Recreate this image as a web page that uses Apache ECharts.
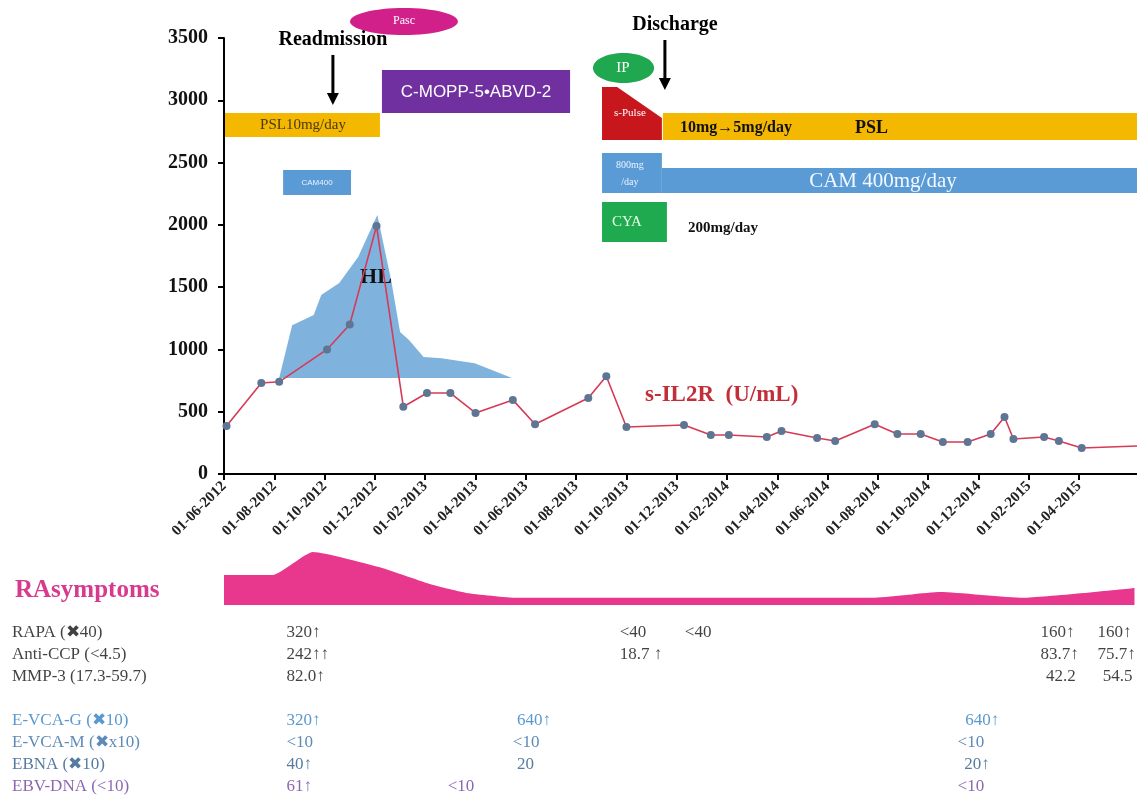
<!DOCTYPE html>
<html><head><meta charset="utf-8">
<script src="https://cdn.jsdelivr.net/npm/echarts@6/dist/echarts.min.js"></script>
<style>html,body{margin:0;padding:0;background:#fff}#c{width:1137px;height:799px}</style>
</head><body><div id="c"></div>
<script>
// ---------- DATA ----------
const X_TICK_MONTHS = [0,2,4,6,8,10,12,14,16,18,20,22,24,26,28,30,32,34]; // months after 01-06-2012
const Y_TICKS = [0,500,1000,1500,2000,2500,3000,3500];

const sil2rDates = ['2012-06-04','2012-07-16','2012-08-07','2012-10-04','2012-11-01','2012-12-03',
  '2013-01-05','2013-02-03','2013-03-01','2013-04-01','2013-05-16','2013-06-12','2013-08-16','2013-09-07',
  '2013-10-01','2013-12-10','2014-01-12','2014-02-03','2014-03-19','2014-04-06','2014-05-19','2014-06-10',
  '2014-07-28','2014-08-25','2014-09-22','2014-10-19','2014-11-18','2014-12-16','2015-01-02','2015-01-13',
  '2015-02-18','2015-03-07','2015-04-04','2015-06-10'];
const sil2rValues = [385,730,740,1000,1200,1990,540,650,650,490,595,400,610,785,
  377,393,313,313,297,345,289,265,400,321,321,257,257,321,457,281,297,265,209,225];

const hlDates = ['2012-08-07','2012-08-23','2012-09-18','2012-09-27','2012-10-19','2012-11-11','2012-12-04',
  '2012-12-21','2013-01-01','2013-01-12','2013-01-30','2013-02-19','2013-03-31','2013-05-15'];
const hlValues = [770,1195,1276,1437,1533,1742,2079,1557,1140,1075,940,930,890,770];
const hlBase = 770;

const raDates = ['2012-06-01','2012-07-30','2012-09-17','2012-12-10','2013-02-09','2013-03-21','2013-05-21',
  '2014-07-25','2014-10-16','2015-01-25','2015-06-07'];
const raValues = [4.6,4.6,8.15,5.7,3.1,1.85,1.1,1.1,2.0,1.1,2.6];

const tableRows = ['RAPA (\u271640)','Anti-CCP (<4.5)','MMP-3 (17.3-59.7)','',
  'E-VCA-G (\u271610)','E-VCA-M (\u2716x10)','EBNA (\u271610)','EBV-DNA (<10)'];
const rapa    = [['2012-08-16','320\u2191'],['2013-09-23','<40'],['2013-12-11','<40'],['2015-02-14','160\u2191'],['2015-04-23','160\u2191']];
const antiCCP = [['2012-08-16','242\u2191\u2191'],['2013-09-23','18.7 \u2191'],['2015-02-14','83.7\u2191'],['2015-04-23','75.7\u2191']];
const mmp3    = [['2012-08-16','82.0\u2191'],['2015-02-20','42.2'],['2015-04-29','54.5']];
const evcaG   = [['2012-08-16','320\u2191'],['2013-05-21','640\u2191'],['2014-11-15','640\u2191']];
const evcaM   = [['2012-08-16','<10'],['2013-05-16','<10'],['2014-11-06','<10']];
const ebna    = [['2012-08-16','40\u2191'],['2013-05-21','20'],['2014-11-14','20\u2191']];
const ebvDNA  = [['2012-08-16','61\u2191'],['2013-02-26','<10'],['2014-11-06','<10']];
const tableValues = [rapa, antiCCP, mmp3, [], evcaG, evcaM, ebna, ebvDNA];

// ---------- STYLE / LAYOUT ----------
const SERIF = 'Liberation Serif';
const SANS = 'Liberation Sans';
const ROW_COLORS = ['#111','#111','#111','#111','#2f7fc1','#356da6','#2b5a88','#6f3f9e'];
const X_MAX = 36.3;
const PX_PER_MONTH = (1137 - 224) / X_MAX;
const TABLE_X_MIN = -(224 - 12) / PX_PER_MONTH; // table grid starts at the row-label column

// annotation shapes (x in months after 01-06-2012, y in axis units)
const ANNOTATIONS = [
  {t:'rect', x1:0.04, x2:6.2, y1:2705, y2:2898, fill:'#f5b800'},
  {t:'text', x:3.14, y:2802, text:'PSL10mg/day', fill:'#4a3a10', size:15, family:SERIF},
  {t:'rect', x1:2.35, x2:5.05, y1:2240, y2:2440, fill:'#5b9bd5'},
  {t:'text', x:3.7, y:2336, text:'CAM400', fill:'#eaf3ff', size:8, family:SANS},
  {t:'rect', x1:6.28, x2:13.76, y1:2898, y2:3243, fill:'#7030a0'},
  {t:'text', x:10.02, y:3066, text:'C-MOPP-5\u2022ABVD-2', fill:'#fff', size:17, family:SANS},
  {t:'ellipse', x1:5.01, x2:9.3, y1:3524, y2:3741, fill:'#d1208a'},
  {t:'text', x:7.16, y:3636, text:'Pasc', fill:'#fff', size:12, family:SERIF},
  {t:'text', x:4.33, y:3484, text:'Readmission', fill:'#000', size:20, family:SERIF, weight:'bold'},
  {t:'arrow', x:4.33, y1:3364, y2:2962},
  {t:'text', x:17.93, y:3604, text:'Discharge', fill:'#000', size:20, family:SERIF, weight:'bold'},
  {t:'arrow', x:17.53, y1:3484, y2:3083},
  {t:'ellipse', x1:14.67, x2:17.1, y1:3139, y2:3380, fill:'#1fa84f'},
  {t:'text', x:15.86, y:3259, text:'IP', fill:'#fff', size:15, family:SERIF},
  {t:'poly', pts:[[15.03,3107],[15.63,3107],[17.41,2858],[17.41,2681],[15.03,2681]], fill:'#c8161d'},
  {t:'text', x:16.14, y:2895, text:'s-Pulse', fill:'#fff', size:11, family:SERIF},
  {t:'rect', x1:17.45, x2:X_MAX, y1:2681, y2:2898, fill:'#f5b800'},
  {t:'text', x:18.13, y:2778, text:'10mg\u21925mg/day', fill:'#111', size:16, family:SERIF, weight:'bold', align:'left'},
  {t:'text', x:25.09, y:2778, text:'PSL', fill:'#111', size:18, family:SERIF, weight:'bold', align:'left'},
  {t:'rect', x1:15.03, x2:17.41, y1:2256, y2:2577, fill:'#5b9bd5'},
  {t:'rect', x1:17.41, x2:X_MAX, y1:2256, y2:2456, fill:'#5b9bd5'},
  {t:'text', x:16.14, y:2480, text:'800mg', fill:'#eaf3ff', size:10, family:SERIF},
  {t:'text', x:16.14, y:2344, text:'/day', fill:'#eaf3ff', size:10, family:SERIF},
  {t:'text', x:26.2, y:2352, text:'CAM 400mg/day', fill:'#f2f8ff', size:21, family:SERIF},
  {t:'rect', x1:15.03, x2:17.61, y1:1862, y2:2183, fill:'#1faa50'},
  {t:'text', x:16.02, y:2023, text:'CYA', fill:'#e8ffe8', size:15, family:SERIF},
  {t:'text', x:18.45, y:1975, text:'200mg/day', fill:'#111', size:15, family:SERIF, weight:'bold', align:'left'},
  {t:'text', x:6.04, y:1581, text:'HL', fill:'#111', size:22, family:SERIF, weight:'bold'},
  {t:'text', x:16.74, y:634, text:'s-IL2R  (U/mL)', fill:'#c22f3a', size:23, family:SERIF, weight:'bold', align:'left'}
];

// ---------- HELPERS ----------
function toMonths(s){
  const [y,m,d] = s.split('-').map(Number);
  const dim = new Date(y, m, 0).getDate();
  return (y-2012)*12 + (m-6) + (d-1)/dim;
}
function monthLabel(v){
  const m = 6 + Math.round(v);
  const y = 2012 + Math.floor((m-1)/12);
  const mm = ((m-1)%12)+1;
  return '01-' + String(mm).padStart(2,'0') + '-' + y;
}

const sil2rData = sil2rDates.map((d,i)=>{
  const item = {value:[toMonths(d), sil2rValues[i]]};
  if (i === sil2rDates.length-1) item.symbol = 'none';
  return item;
});
const hlData = hlDates.map((d,i)=>[toMonths(d), hlValues[i]]);
const raData = raDates.map((d,i)=>[toMonths(d), raValues[i]]);
const tableData = [];
tableValues.forEach((row, ri)=>row.forEach(([d,t])=>{
  tableData.push({value:[toMonths(d), ri, t], label:{color: ROW_COLORS[ri]}});
}));
const rowLabelData = tableRows.map((r,i)=>({value:[TABLE_X_MIN, i, r], label:{color: ROW_COLORS[i]}}));

const chart = echarts.init(document.getElementById('c'));
chart.setOption({
  animation:false,
  backgroundColor:'#fff',
  title:{text:'RAsymptoms', left:10, top:573,
    textStyle:{color:'#d63b8f', fontFamily:SERIF, fontWeight:'bold', fontSize:25}},
  grid:[
    {left:224, right:0, top:38, height:436, outerBoundsMode:'none', containLabel:false},
    {left:224, right:0, top:540, height:65, outerBoundsMode:'none', containLabel:false},
    {left:12, right:0, top:622, height:176, outerBoundsMode:'none', containLabel:false}
  ],
  xAxis:[
    {type:'value', gridIndex:0, min:0, max:X_MAX,
     axisLine:{lineStyle:{color:'#000', width:2}},
     axisTick:{customValues:X_TICK_MONTHS, length:6, lineStyle:{color:'#000', width:2}},
     axisLabel:{customValues:X_TICK_MONTHS, formatter:monthLabel, rotate:45, margin:10,
       color:'#222', fontFamily:SERIF, fontWeight:'bold', fontSize:15},
     splitLine:{show:false}},
    {type:'value', gridIndex:1, min:0, max:X_MAX, show:false},
    {type:'value', gridIndex:2, min:TABLE_X_MIN, max:X_MAX, show:false}
  ],
  yAxis:[
    {type:'value', gridIndex:0, min:0, max:3500, interval:500,
     axisLine:{show:true, lineStyle:{color:'#000', width:2}},
     axisTick:{show:true, length:6, lineStyle:{color:'#000', width:2}},
     axisLabel:{color:'#111', fontFamily:SERIF, fontWeight:'bold', fontSize:20, margin:16,
       formatter:v=>String(v)},
     splitLine:{show:false}},
    {type:'value', gridIndex:1, min:0, max:10, show:false},
    {type:'category', gridIndex:2, inverse:true, data:tableRows, show:false}
  ],
  series:[
    {type:'line', name:'HL', xAxisIndex:0, yAxisIndex:0, data:hlData, symbol:'none',
     lineStyle:{width:0}, areaStyle:{color:'#7fb3de', opacity:1, origin:hlBase}, z:1, silent:true},
    {type:'line', name:'s-IL2R', xAxisIndex:0, yAxisIndex:0, data:sil2rData,
     symbol:'circle', symbolSize:8, itemStyle:{color:'#5f7594'},
     lineStyle:{color:'#d63a56', width:1.6}, z:5, silent:true},
    {type:'line', name:'RA', xAxisIndex:1, yAxisIndex:1, data:raData, symbol:'none', smooth:0.15,
     lineStyle:{width:0}, areaStyle:{color:'#e8388e', opacity:1}, silent:true},
    {type:'scatter', name:'rowLabels', xAxisIndex:2, yAxisIndex:2, data:rowLabelData, symbolSize:0,
     label:{show:true, position:'right', distance:0, formatter:p=>p.data.value[2],
       fontFamily:SERIF, fontSize:17}, silent:true},
    {type:'scatter', name:'table', xAxisIndex:2, yAxisIndex:2, data:tableData, symbolSize:0,
     label:{show:true, position:'right', distance:0, formatter:p=>p.data.value[2],
       fontFamily:SERIF, fontSize:17}, silent:true},
    {type:'custom', name:'annotations', xAxisIndex:0, yAxisIndex:0, clip:false, silent:true, z:4,
     data: ANNOTATIONS.map(()=>[0,0]),
     renderItem:function(params, api){
       const a = ANNOTATIONS[params.dataIndex];
       const c = (x,y)=>api.coord([x,y]);
       if (a.t==='rect' || a.t==='ellipse'){
         const p=c(a.x1,a.y2), q=c(a.x2,a.y1);
         if (a.t==='rect') return {type:'rect', shape:{x:p[0],y:p[1],width:q[0]-p[0],height:q[1]-p[1]}, style:{fill:a.fill}};
         return {type:'ellipse', shape:{cx:(p[0]+q[0])/2, cy:(p[1]+q[1])/2, rx:(q[0]-p[0])/2, ry:(q[1]-p[1])/2}, style:{fill:a.fill}};
       }
       if (a.t==='poly') return {type:'polygon', shape:{points:a.pts.map(pt=>c(pt[0],pt[1]))}, style:{fill:a.fill}};
       if (a.t==='arrow'){
         const p=c(a.x,a.y1), q=c(a.x,a.y2);
         return {type:'group', children:[
           {type:'line', shape:{x1:p[0],y1:p[1],x2:q[0],y2:q[1]-10}, style:{stroke:'#000', lineWidth:3}},
           {type:'polygon', shape:{points:[[q[0]-6,q[1]-12],[q[0]+6,q[1]-12],[q[0],q[1]]]}, style:{fill:'#000'}}
         ]};
       }
       const p=c(a.x,a.y);
       return {type:'text', x:p[0], y:p[1], style:{text:a.text, fill:a.fill, fontSize:a.size,
         fontFamily:a.family, fontWeight:a.weight||'normal', align:a.align||'center', verticalAlign:'middle'}};
     }}
  ]
});
</script></body></html>
